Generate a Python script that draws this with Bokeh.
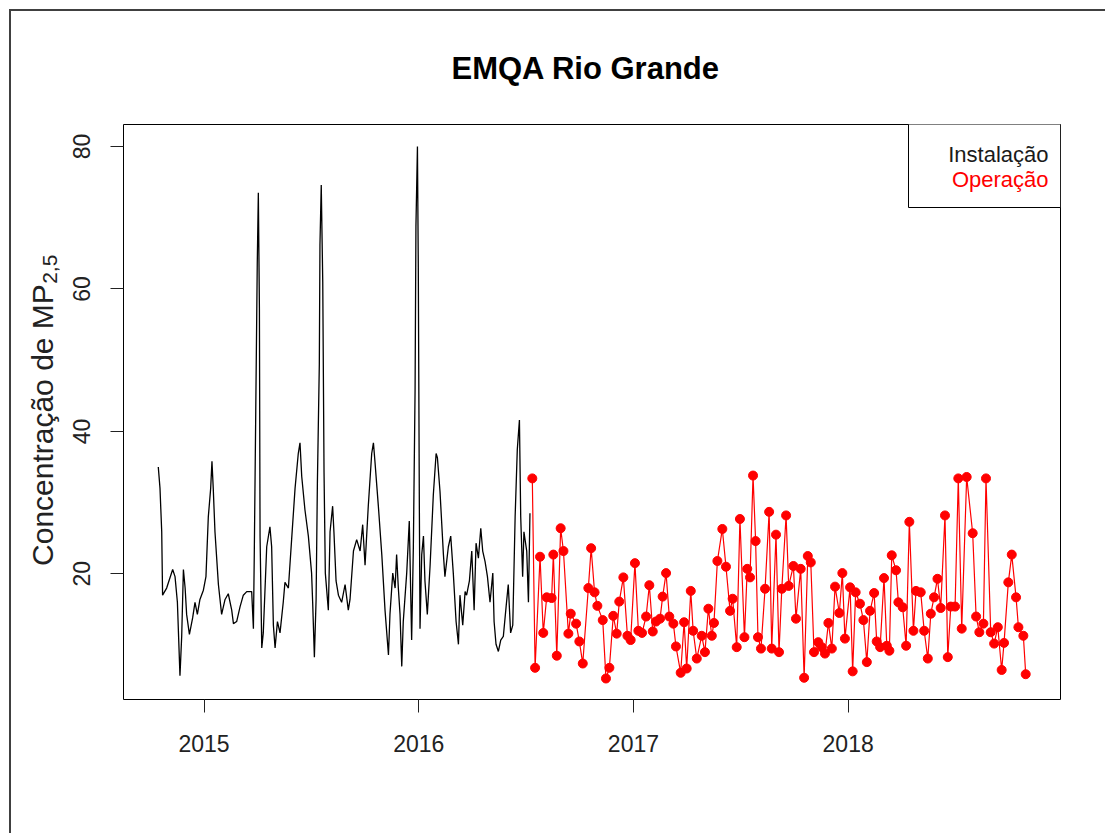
from bokeh.plotting import figure
from bokeh.models import (Range1d, FixedTicker, Label, BoxAnnotation, ColumnDataSource,
                          LinearAxis)
from bokeh.embed import file_html
from bokeh.resources import INLINE

TITLE = "EMQA Rio Grande"
Y_LABEL = "Concentração de MP"
Y_LABEL_SUB = "2,5"
LEGEND_LABELS = ["Instalação", "Operação"]
X_TICKS = [2015, 2016, 2017, 2018]
Y_TICKS = [20, 40, 60, 80]

# Instalação (black) – date as decimal year, PM2.5 concentration
inst_year = [
    2014.787, 2014.795, 2014.803, 2014.807, 2014.826, 2014.854, 2014.865, 2014.876,
    2014.888, 2014.896, 2014.904, 2014.912, 2014.919, 2014.932, 2014.947, 2014.958,
    2014.969, 2014.981, 2014.997, 2015.009, 2015.020, 2015.031, 2015.037, 2015.043,
    2015.051, 2015.067, 2015.082, 2015.098, 2015.113, 2015.129, 2015.137, 2015.152,
    2015.168, 2015.183, 2015.199, 2015.222, 2015.230, 2015.234, 2015.241, 2015.248,
    2015.253, 2015.258, 2015.261, 2015.269, 2015.276, 2015.292, 2015.307, 2015.315,
    2015.323, 2015.331, 2015.342, 2015.354, 2015.369, 2015.377, 2015.393, 2015.408,
    2015.424, 2015.439, 2015.447, 2015.455, 2015.470, 2015.486, 2015.501, 2015.506,
    2015.514, 2015.522, 2015.528, 2015.537, 2015.540, 2015.546, 2015.553, 2015.559,
    2015.565, 2015.579, 2015.587, 2015.599, 2015.605, 2015.615, 2015.626, 2015.641,
    2015.657, 2015.672, 2015.680, 2015.696, 2015.711, 2015.727, 2015.739, 2015.750,
    2015.765, 2015.781, 2015.789, 2015.796, 2015.812, 2015.828, 2015.843, 2015.859,
    2015.866, 2015.879, 2015.890, 2015.897, 2015.905, 2015.913, 2015.921, 2015.928,
    2015.944, 2015.956, 2015.967, 2015.975, 2015.983, 2015.987, 2015.994, 2015.998,
    2016.003, 2016.006, 2016.014, 2016.022, 2016.029, 2016.040, 2016.053, 2016.068,
    2016.081, 2016.087, 2016.099, 2016.115, 2016.122, 2016.138, 2016.149, 2016.161,
    2016.174, 2016.185, 2016.192, 2016.205, 2016.216, 2016.223, 2016.236, 2016.247,
    2016.258, 2016.267, 2016.278, 2016.289, 2016.298, 2016.309, 2016.320, 2016.332,
    2016.345, 2016.351, 2016.360, 2016.371, 2016.382, 2016.394, 2016.407, 2016.417,
    2016.428, 2016.438, 2016.449, 2016.459, 2016.469, 2016.475, 2016.484, 2016.490,
    2016.503, 2016.511, 2016.518,
]
inst_value = [
    35.0, 32.0, 25.9, 17.0, 18.0, 20.6, 19.6, 16.0,
    5.7, 11.2, 20.6, 18.0, 14.3, 11.5, 13.8, 16.0,
    14.3, 16.4, 17.7, 19.6, 28.0, 32.0, 35.8, 32.0,
    25.9, 18.5, 14.3, 16.4, 17.2, 14.9, 13.0, 13.3,
    15.4, 17.0, 17.5, 17.5, 12.3, 22.5, 42.9, 63.6,
    73.5, 57.3, 25.3, 9.6, 11.7, 23.8, 26.6, 23.8,
    12.8, 9.6, 13.3, 11.7, 16.0, 18.8, 18.0, 24.8,
    32.0, 36.9, 38.4, 33.7, 29.0, 25.3, 20.1, 16.0,
    8.3, 16.4, 32.7, 49.4, 66.2, 74.6, 61.0, 34.2,
    20.1, 14.9, 25.9, 29.5, 25.9, 19.0, 17.0, 16.0,
    18.5, 14.9, 16.4, 23.2, 24.8, 23.2, 26.9, 21.2,
    29.5, 36.9, 38.4, 35.8, 29.5, 22.7, 14.9, 8.6,
    14.3, 20.1, 18.0, 22.7, 18.0, 14.3, 7.0, 13.3,
    20.1, 27.4, 10.7, 23.8, 45.8, 68.8, 80.0, 63.0,
    29.0, 12.3, 22.7, 25.3, 19.0, 14.3, 21.2, 31.1,
    36.9, 36.3, 31.6, 22.7, 19.6, 23.8, 25.3, 20.1,
    13.3, 10.1, 17.0, 12.8, 17.5, 17.0, 19.0, 23.2,
    14.9, 24.3, 22.2, 26.4, 23.2, 21.7, 19.6, 16.0,
    20.1, 13.3, 10.1, 9.1, 10.7, 11.2, 15.4, 18.5,
    11.7, 12.8, 28.0, 37.4, 41.6, 28.0, 19.6, 25.9,
    23.2, 16.0, 28.5,
]

# Operação (red)
oper_year = [
    2016.529, 2016.542, 2016.565, 2016.580, 2016.596, 2016.619, 2016.627, 2016.643,
    2016.661, 2016.674, 2016.697, 2016.708, 2016.733, 2016.748, 2016.764, 2016.790,
    2016.803, 2016.819, 2016.832, 2016.857, 2016.872, 2016.888, 2016.906, 2016.922,
    2016.934, 2016.953, 2016.972, 2016.987, 2017.007, 2017.023, 2017.040, 2017.059,
    2017.074, 2017.090, 2017.105, 2017.124, 2017.136, 2017.152, 2017.167, 2017.186,
    2017.198, 2017.220, 2017.236, 2017.248, 2017.267, 2017.278, 2017.295, 2017.318,
    2017.333, 2017.349, 2017.365, 2017.375, 2017.391, 2017.414, 2017.431, 2017.450,
    2017.462, 2017.481, 2017.496, 2017.517, 2017.530, 2017.543, 2017.557, 2017.569,
    2017.580, 2017.594, 2017.613, 2017.632, 2017.644, 2017.664, 2017.678, 2017.691,
    2017.711, 2017.723, 2017.745, 2017.757, 2017.779, 2017.795, 2017.812, 2017.826,
    2017.841, 2017.861, 2017.877, 2017.892, 2017.908, 2017.924, 2017.939, 2017.959,
    2017.973, 2017.985, 2018.009, 2018.021, 2018.035, 2018.055, 2018.071, 2018.087,
    2018.102, 2018.121, 2018.133, 2018.149, 2018.167, 2018.180, 2018.192, 2018.203,
    2018.223, 2018.234, 2018.254, 2018.270, 2018.285, 2018.304, 2018.316, 2018.338,
    2018.354, 2018.371, 2018.385, 2018.400, 2018.416, 2018.431, 2018.451, 2018.464,
    2018.478, 2018.498, 2018.513, 2018.529, 2018.552, 2018.580, 2018.596, 2018.611,
    2018.630, 2018.642, 2018.664, 2018.680, 2018.697, 2018.715, 2018.726, 2018.746,
    2018.762, 2018.782, 2018.793, 2018.816, 2018.827,
]
oper_value = [
    33.4, 6.8, 22.4, 11.7, 16.7, 16.6, 22.7, 8.5,
    26.4, 23.2, 11.6, 14.4, 13.0, 10.5, 7.4, 18.0,
    23.6, 17.4, 15.5, 13.5, 5.3, 6.8, 14.1, 11.6,
    16.1, 19.5, 11.3, 10.7, 21.5, 12.0, 11.7, 14.0,
    18.4, 11.9, 13.3, 13.7, 16.8, 20.1, 14.0, 13.0,
    9.8, 6.1, 13.2, 6.7, 17.6, 12.0, 8.1, 11.3,
    9.0, 15.1, 11.3, 13.1, 21.8, 26.3, 21.0, 14.8,
    16.5, 9.7, 27.7, 11.1, 20.7, 19.5, 33.8, 24.6,
    11.1, 9.5, 17.9, 28.7, 9.5, 25.5, 9.0, 17.9,
    28.2, 18.3, 21.1, 13.7, 20.7, 5.4, 22.5, 21.6,
    9.0, 10.4, 9.7, 8.8, 13.1, 9.5, 18.2, 14.5,
    20.1, 10.9, 18.1, 6.3, 17.4, 15.8, 13.5, 7.6,
    14.8, 17.3, 10.5, 9.7, 19.4, 9.9, 9.2, 22.6,
    20.5, 16.0, 15.3, 9.9, 27.3, 12.0, 17.6, 17.4,
    12.0, 8.1, 14.4, 16.7, 19.3, 15.2, 28.2, 8.3,
    15.4, 15.4, 33.4, 12.3, 33.6, 25.7, 14.0, 11.8,
    13.0, 33.4, 11.8, 10.2, 12.5, 6.5, 10.3, 18.8,
    22.7, 16.7, 12.5, 11.3, 5.9,
]

FONT = "Liberation Sans"
TEXT_COLOR = "#222222"

p = figure(width=1096, height=824, output_backend="svg", toolbar_location=None,
           x_range=Range1d(2014.625, 2018.989), y_range=Range1d(2.35, 83.1),
           min_border_left=112, min_border_top=112, min_border_right=47,
           min_border_bottom=136)
p.styles = {"margin-left": "9px", "margin-top": "9px",
            "border-left": "2px solid #404040", "border-top": "2px solid #404040"}
p.outline_line_color = "black"
p.outline_line_width = 1
p.xgrid.visible = False
p.ygrid.visible = False
p.background_fill_color = "white"
p.border_fill_color = "white"

# title
p.title.text = TITLE
p.title.text_font = FONT
p.title.text_font_size = "31px"
p.title.text_font_style = "bold"
p.title.text_color = "black"
p.title.align = "left"
p.title.offset = 328
p.title.vertical_align = "middle"
p.title.standoff = 76

for ax in (p.xaxis[0], p.yaxis[0]):
    ax.axis_line_color = None
    ax.major_tick_in = 0
    ax.major_tick_out = 13
    ax.major_tick_line_color = TEXT_COLOR
    ax.minor_tick_line_color = None
    ax.major_label_text_font = FONT
    ax.major_label_text_font_size = "23px"
    ax.major_label_text_color = TEXT_COLOR

p.xaxis[0].ticker = FixedTicker(ticks=X_TICKS, minor_ticks=[])
p.yaxis[0].ticker = FixedTicker(ticks=Y_TICKS, minor_ticks=[])
p.xaxis[0].major_label_standoff = 22
p.yaxis[0].major_label_standoff = 20
p.yaxis[0].major_label_orientation = "vertical"


# y axis title "Concentração de MP" with subscript "2,5" (two label-only axes)
def label_axis(text, pos, size, standoff):
    ax = LinearAxis(ticker=FixedTicker(ticks=[pos], minor_ticks=[]),
                    major_label_overrides={pos: text})
    ax.axis_line_color = None
    ax.major_tick_line_color = None
    ax.minor_tick_line_color = None
    ax.major_tick_in = 0
    ax.major_tick_out = 0
    ax.major_label_orientation = "vertical"
    ax.major_label_standoff = standoff
    ax.major_label_text_font = FONT
    ax.major_label_text_font_size = size
    ax.major_label_text_color = TEXT_COLOR
    return ax


p.add_layout(label_axis(Y_LABEL_SUB, 62.77, "21px", 13), "left")
p.add_layout(label_axis(Y_LABEL, 40.89, "30px", -19), "left")

inst_src = ColumnDataSource(dict(x=inst_year, y=inst_value))
oper_src = ColumnDataSource(dict(x=oper_year, y=oper_value))

p.line("x", "y", source=inst_src, line_color="black", line_width=1.3)
p.line("x", "y", source=oper_src, line_color="#ff0000", line_width=1.2)
p.scatter("x", "y", source=oper_src, marker="circle", size=9,
          fill_color="#ff0000", line_color="#ff0000")

# legend
p.add_layout(BoxAnnotation(left=785, right=937, top=576, bottom=492,
                           left_units="screen", right_units="screen",
                           top_units="screen", bottom_units="screen",
                           fill_color="white", fill_alpha=1.0,
                           line_color="black", line_width=1, line_alpha=1.0))
p.add_layout(Label(x=925, y=545, x_units="screen", y_units="screen", text=LEGEND_LABELS[0],
                   text_align="right", text_baseline="alphabetic", text_font=FONT,
                   text_font_size="22px", text_color="#1a1a1a"))
p.add_layout(Label(x=925, y=520, x_units="screen", y_units="screen", text=LEGEND_LABELS[1],
                   text_align="right", text_baseline="alphabetic", text_font=FONT,
                   text_font_size="22px", text_color="#ff0000"))

open("out.html", "w").write(file_html(p, INLINE))
